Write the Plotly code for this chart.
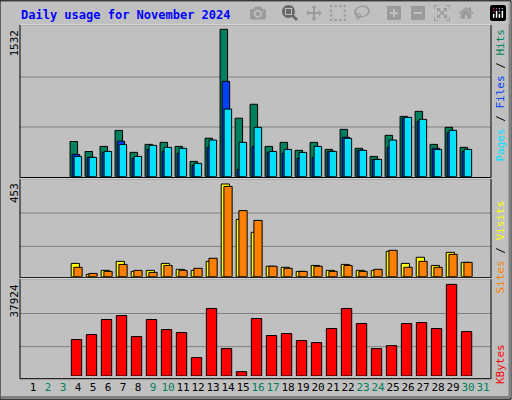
import plotly.graph_objects as go

days = list(range(4, 31))
hits = [366, 262, 315, 481, 253, 336, 357, 315, 159, 400, 1532, 608, 753, 315, 357, 274, 357, 284, 492, 295, 211, 430, 627, 679, 336, 513, 305]
files = [232, 201, 253, 369, 191, 284, 263, 243, 118, 306, 991, 77, 315, 253, 243, 191, 201, 263, 409, 274, 180, 306, 607, 576, 295, 461, 263]
pages = [211, 201, 263, 336, 211, 326, 305, 295, 139, 381, 703, 357, 513, 263, 284, 253, 315, 263, 399, 274, 180, 381, 617, 596, 284, 482, 284]
visits = [65, 11, 31, 75, 26, 31, 65, 36, 31, 75, 453, 280, 217, 51, 46, 26, 55, 31, 60, 31, 31, 124, 65, 95, 55, 119, 70]
sites = [46, 16, 26, 60, 31, 21, 55, 31, 41, 90, 441, 323, 275, 51, 41, 26, 51, 26, 55, 26, 36, 129, 46, 75, 46, 109, 70]
kbytes = [15086, 17162, 23390, 25050, 16331, 23390, 19238, 17992, 7612, 27957, 11349, 1799, 23805, 16746, 17577, 14670,
          13840, 19653, 27957, 21729, 11349, 12594, 21729, 22144, 19653, 37924, 18407]
weekend = [2, 3, 9, 10, 16, 17, 23, 24, 30, 31]

C_HITS, C_FILES, C_PAGES = "#00805C", "#0040FF", "#00E0FF"
C_VISITS, C_SITES, C_KB = "#FFFF00", "#FF8000", "#FF0000"
MONO = "DejaVu Sans Mono"

fig = go.Figure()
line = dict(color="black", width=1)
fig.add_bar(x=[d - 0.28 for d in days], y=hits, width=0.5, marker=dict(color=C_HITS, line=line), yaxis="y3")
fig.add_bar(x=[d - 0.14 for d in days], y=files, width=0.5, marker=dict(color=C_FILES, line=line), yaxis="y3")
fig.add_bar(x=[d - 0.01 for d in days], y=pages, width=0.5, marker=dict(color=C_PAGES, line=line), yaxis="y3")
fig.add_bar(x=[d - 0.18 for d in days], y=visits, width=0.55, marker=dict(color=C_VISITS, line=line), yaxis="y2")
fig.add_bar(x=[d + 0.0 for d in days], y=sites, width=0.55, marker=dict(color=C_SITES, line=line), yaxis="y2")
fig.add_bar(x=[d - 0.1 for d in days], y=kbytes, width=0.69, marker=dict(color=C_KB, line=line), yaxis="y")

ticktext = [f"<span style='color:{C_HITS}'>{d}</span>" if d in weekend else str(d) for d in range(1, 32)]

def py(p):
    return 1 - p / 400

ax = dict(showgrid=False, zeroline=False, showticklabels=False, fixedrange=True)
fig.update_layout(
    width=512, height=400, showlegend=False, barmode="overlay",
    margin=dict(l=20, r=21, t=0, b=0),
    paper_bgcolor="#C0C0C0", plot_bgcolor="#C0C0C0",
    xaxis=dict(range=[0.133, 31.53], showgrid=False, zeroline=False, tickvals=list(range(1, 32)), anchor="y",
               tickangle=0, ticktext=ticktext, tickfont=dict(family=MONO, size=11, color="black"), ticks="",
               ticklabelstandoff=3),
    yaxis=dict(ax, domain=[py(376), py(279.7)], range=[0, 39876]),
    yaxis2=dict(ax, domain=[py(276.7), py(179.7)], range=[0, 474]),
    yaxis3=dict(ax, domain=[py(176.7), py(24.7)], range=[0, 1580]),
    font=dict(family=MONO),
)

shapes = []
# gridlines
for yref, vals in [("y", [12170, 25880]), ("y2", [148, 311]), ("y3", [517, 1036])]:
    for v in vals:
        shapes.append(dict(type="line", xref="x domain", yref=yref, x0=0, x1=1, y0=v, y1=v,
                           line=dict(color="#808080", width=1), layer="below"))
# panel frames
for top, bot in [(24.7, 177.5), (178.7, 277.7), (278.7, 378.7)]:
    shapes.append(dict(type="rect", xref="paper", yref="paper", x0=0, x1=1, y0=py(bot), y1=py(top),
                       line=dict(color="black", width=1)))
    shapes.append(dict(type="line", xref="paper", yref="paper", x0=0, x1=1, y0=py(top), y1=py(top),
                       line=dict(color="white", width=1)))
# outer bevel
shapes.append(dict(type="rect", xref="paper", yref="paper", x0=-20 / 471, x1=1 + 20 / 471, y0=0.002, y1=0.998,
                   line=dict(color="black", width=1)))
shapes.append(dict(type="line", xref="paper", yref="paper", x0=1 + 19 / 471, x1=1 + 19 / 471, y0=0.005, y1=0.995,
                   line=dict(color="#808080", width=3)))
shapes.append(dict(type="line", xref="paper", yref="paper", x0=-19 / 471, x1=1 + 19 / 471, y0=0.006, y1=0.006,
                   line=dict(color="#808080", width=3)))
fig.update_layout(shapes=shapes)

ann = []
ann.append(dict(text="<b>Daily usage for November 2024</b>", xref="paper", yref="paper", x=-1 / 471, y=py(15),
                xanchor="left", yanchor="middle", showarrow=False, font=dict(family=MONO, size=12, color="#0000FF")))
for label, ypix in [("1532", 28), ("453", 181), ("37924", 283)]:
    ann.append(dict(text=label, xref="paper", yref="paper", x=-6 / 471, y=py(ypix), xanchor="center", yanchor="top",
                    textangle=-90, showarrow=False, font=dict(family=MONO, size=11, color="black")))

def sp(t, c):
    return f"<span style='color:{c}'>{t}</span>"

for text, ypix in [(sp("Pages", C_PAGES) + " / " + sp("Files", C_FILES) + " / " + sp("Hits", C_HITS), 27),
                   (sp("Sites", C_SITES) + " / " + sp("Visits", C_VISITS), 199),
                   (sp("KBytes", C_KB), 342)]:
    ann.append(dict(text=text, xref="paper", yref="paper", x=1 + 9 / 471, y=py(ypix), xanchor="center", yanchor="top",
                    textangle=-90, showarrow=False, font=dict(family=MONO, size=11, color="black")))
fig.update_layout(annotations=ann)

fig.write_html("out.html", post_script="document.body.style.margin='0';")
